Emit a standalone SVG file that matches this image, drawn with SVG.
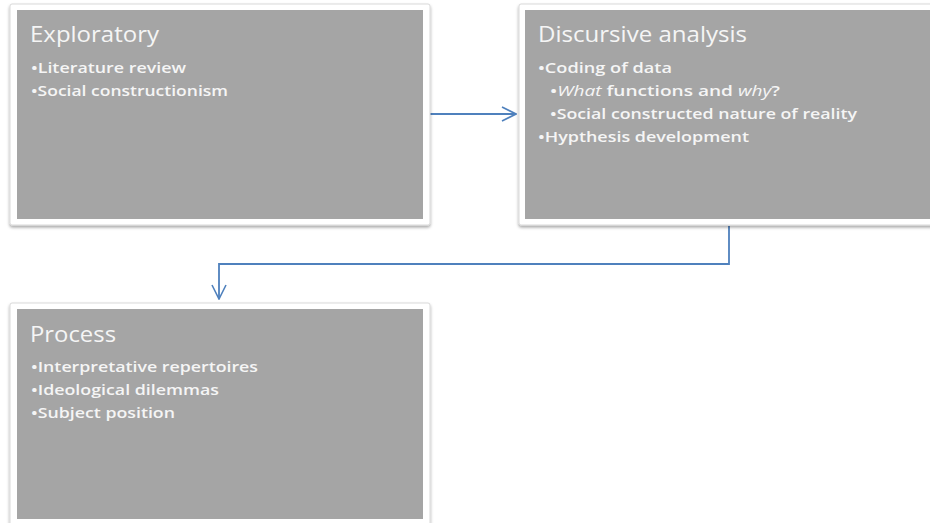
<svg xmlns="http://www.w3.org/2000/svg" width="930" height="523" viewBox="0 0 930 523">
<defs>
<filter id="sh" x="-5%" y="-5%" width="110%" height="115%">
<feDropShadow dx="0" dy="2" stdDeviation="1.5" flood-color="#000" flood-opacity="0.35"/>
</filter>
<marker id="arr" viewBox="0 0 16 16" refX="15" refY="8" markerWidth="16" markerHeight="16" markerUnits="userSpaceOnUse" orient="auto">
<path d="M1,1 L15,8 L1,15" fill="none" stroke="#4F81BD" stroke-width="1.6"/>
</marker>
<style>
.frame{fill:#fff;stroke:#d9d9d9;stroke-width:1;filter:url(#sh)}
.inner{fill:#a5a5a5}
.title{font-family:"Open Sans","DejaVu Sans",sans-serif;font-size:21px;fill:#f5f5f5}
.item{font-family:"Open Sans","DejaVu Sans",sans-serif;font-size:15px;font-weight:600;fill:#f5f5f5}
.conn{fill:none;stroke:#4F81BD;stroke-width:1.8}
</style>
</defs>
<rect width="930" height="523" fill="#fff"/>
<g id="connectors">
<path class="conn" d="M430,114 L516,114" marker-end="url(#arr)"/>
<path class="conn" d="M729,226 L729,264 L219,264 L219,299" marker-end="url(#arr)"/>
</g>
<g id="node-exploratory">
<rect class="frame" x="10" y="4" width="420" height="221" rx="2"/>
<rect class="inner" x="17" y="10" width="406" height="209"/>
<text class="title" x="30" y="42" textLength="129" lengthAdjust="spacingAndGlyphs">Exploratory</text>
<text class="item" x="31" y="73" textLength="155" lengthAdjust="spacingAndGlyphs">•Literature review</text>
<text class="item" x="31" y="96" textLength="197" lengthAdjust="spacingAndGlyphs">•Social constructionism</text>
</g>
<g id="node-discursive">
<rect class="frame" x="519" y="4" width="420" height="221" rx="2"/>
<rect class="inner" x="525" y="10" width="410" height="209"/>
<text class="title" x="538" y="42" textLength="209" lengthAdjust="spacingAndGlyphs">Discursive analysis</text>
<text class="item" x="538" y="73" textLength="134" lengthAdjust="spacingAndGlyphs">•Coding of data</text>
<text class="item" x="550" y="96" textLength="230" lengthAdjust="spacingAndGlyphs">•<tspan font-style="italic" font-weight="normal">What</tspan> functions and <tspan font-style="italic" font-weight="normal">why</tspan>?</text>
<text class="item" x="550" y="119" textLength="307" lengthAdjust="spacingAndGlyphs">•Social constructed nature of reality</text>
<text class="item" x="538" y="142" textLength="211" lengthAdjust="spacingAndGlyphs">•Hypthesis development</text>
</g>
<g id="node-process">
<rect class="frame" x="10" y="303" width="420" height="225" rx="2"/>
<rect class="inner" x="17" y="309" width="406" height="210"/>
<text class="title" x="30" y="342" textLength="86" lengthAdjust="spacingAndGlyphs">Process</text>
<text class="item" x="31" y="372" textLength="227" lengthAdjust="spacingAndGlyphs">•Interpretative repertoires</text>
<text class="item" x="31" y="395" textLength="188" lengthAdjust="spacingAndGlyphs">•Ideological dilemmas</text>
<text class="item" x="31" y="418" textLength="144" lengthAdjust="spacingAndGlyphs">•Subject position</text>
</g>
</svg>
